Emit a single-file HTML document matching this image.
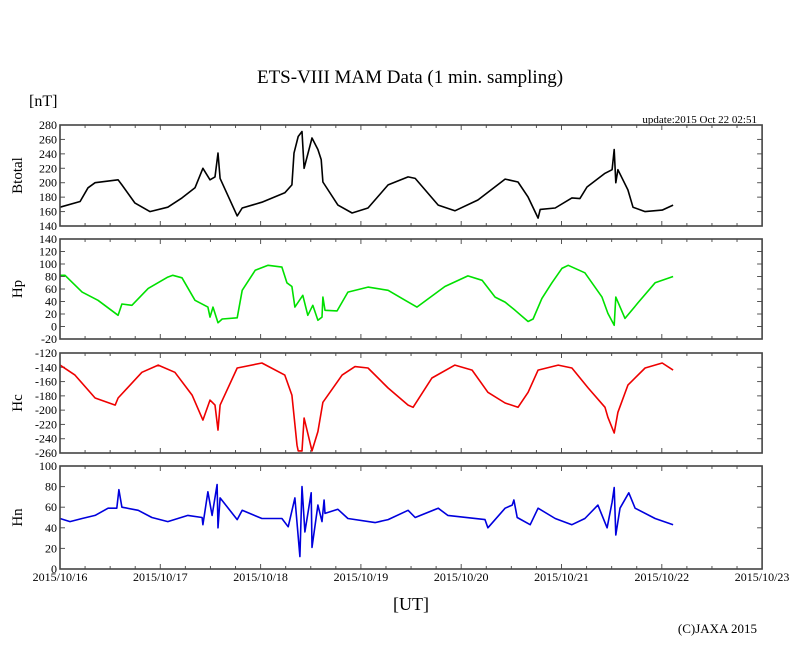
<!DOCTYPE html>
<html><head><meta charset="utf-8"><style>
html,body{margin:0;padding:0;background:#fff;}
svg{display:block;font-family:"Liberation Serif",serif;}
</style></head><body>
<svg id="chart" width="810" height="655" viewBox="0 0 810 655" xmlns="http://www.w3.org/2000/svg">
<text x="410" y="83" text-anchor="middle" font-size="19">ETS-VIII MAM Data (1 min. sampling)</text>
<text x="29" y="106" font-size="16">[nT]</text>
<text x="757" y="123" text-anchor="end" font-size="11">update:2015 Oct 22 02:51</text>
<text x="411" y="610" text-anchor="middle" font-size="18">[UT]</text>
<text x="757" y="633" text-anchor="end" font-size="13">(C)JAXA 2015</text>
<g id="plots"></g>
</svg>
<script>
// x-axis
const dayLabels = ["2015/10/16","2015/10/17","2015/10/18","2015/10/19","2015/10/20","2015/10/21","2015/10/22","2015/10/23"];
// Btotal
const btT = [0,4.8,6.7,8.4,13.9,14.8,17.9,21.5,25.8,29.2,32.3,34.2,35.9,37.1,37.8,38.3,42.4,43.6,48.3,53.8,55.5,56.0,57.0,57.9,58.4,60.3,61.7,62.5,62.9,66.5,69.9,73.7,78.5,83.3,85.0,90.5,94.5,100.0,106.5,109.6,112.0,114.4,114.9,118.5,122.5,124.4,126.1,130.4,132.1,132.6,133.0,133.5,135.9,137.1,140.0,144.1,146.7];
const btV = [166,174,193,200,204,197,172,160,166,179,193,220,204,208,241,206,154,165,173,186,197,241,264,271,220,262,246,232,201,169,158,165,197,208,206,169,161,176,205,201,180,151,163,165,179,178,194,213,218,246,200,218,190,166,160,162,169];
const btTicks = [140,160,180,200,220,240,260,280];
// Hp
const hpT = [0,1.2,5.3,9.1,13.9,14.8,17.2,21.1,25.8,27.0,29.2,32.3,35.4,35.9,36.6,37.8,38.8,42.4,43.6,46.7,49.8,53.1,54.3,55.5,56.2,58.1,59.3,60.5,61.7,62.7,62.9,63.4,66.3,68.9,73.7,78.5,82.6,85.4,92.1,97.6,101.0,104.1,106.5,108.9,112.0,113.2,115.3,117.7,120.1,121.6,125.6,129.7,131.1,132.6,133.0,135.2,138.3,142.4,146.7];
const hpV = [82,82,55,42,18,36,34,61,79,82,78,42,31,15,31,6,12,14,58,90,98,95,70,64,31,50,18,34,10,15,47,26,25,55,63,58,42,31,64,81,74,47,39,26,8,12,45,70,93,98,86,47,21,2,47,13,38,70,80];
const hpTicks = [-20,0,20,40,60,80,100,120,140];
// Hc
const hcT = [0,3.6,8.4,13.2,13.9,19.6,23.5,27.5,31.6,34.2,35.9,37.1,37.8,38.3,42.4,48.3,53.8,55.5,56.7,57.0,57.9,58.4,60.3,61.7,62.9,67.5,70.6,73.7,78.5,83.3,84.5,89.0,94.5,98.6,102.4,106.5,109.6,112.0,114.4,119.2,122.5,126.4,130.4,131.1,132.6,133.5,135.9,140.0,144.1,146.7];
const hcV = [-137,-151,-183,-193,-183,-147,-137,-147,-179,-214,-186,-193,-228,-193,-141,-134,-151,-179,-249,-257,-257,-211,-257,-230,-189,-151,-139,-141,-169,-193,-196,-155,-137,-144,-175,-190,-196,-175,-144,-137,-141,-169,-196,-210,-232,-203,-165,-141,-134,-144];
const hcTicks = [-260,-240,-220,-200,-180,-160,-140,-120];
// Hn
const hnT = [0,2.4,5.3,8.4,11.5,13.6,14.1,14.8,18.7,22.0,25.8,30.6,34.0,34.2,35.4,36.4,37.6,37.8,38.3,42.4,43.6,48.3,53.1,54.6,56.2,57.4,57.9,58.6,60.1,60.3,61.7,62.7,63.2,63.4,66.5,68.9,75.4,78.5,83.3,85.0,90.5,92.8,101.7,102.4,106.5,108.2,108.6,109.4,112.5,114.4,118.5,122.5,125.6,128.7,130.9,132.1,132.6,133.0,134.0,136.1,137.6,142.4,146.7];
const hnV = [49,46,49,52,59,59,77,60,57,50,46,52,50,43,75,52,82,40,69,48,57,49,49,41,69,12,80,36,74,21,62,46,67,54,58,49,45,48,57,50,59,52,48,40,59,62,67,50,43,59,49,43,49,62,40,65,79,33,59,74,59,49,43];
const hnTicks = [0,20,40,60,80,100];

const X0 = 60, DAYW = 100.3;
function xScale(h){ return X0 + h/24*DAYW; }
const NS = "http://www.w3.org/2000/svg";
const root = document.getElementById('plots');
function mk(tag, attrs, parent){
  const e = document.createElementNS(NS, tag);
  for (const k in attrs) e.setAttribute(k, attrs[k]);
  (parent||root).appendChild(e);
  return e;
}
const panels = [
  {name:'btotal', label:'Btotal', top:125, bot:226, min:140, max:280, T:btT, V:btV, ticks:btTicks, color:'#000000'},
  {name:'hp', label:'Hp', top:239, bot:339, min:-20, max:140, T:hpT, V:hpV, ticks:hpTicks, color:'#00e000'},
  {name:'hc', label:'Hc', top:353, bot:453, min:-260, max:-120, T:hcT, V:hcV, ticks:hcTicks, color:'#ee0000'},
  {name:'hn', label:'Hn', top:466, bot:569, min:0, max:100, T:hnT, V:hnV, ticks:hnTicks, color:'#0000dd'}
];
const XR = X0 + 7*DAYW;
panels.forEach(p => {
  const g = mk('g', {});
  
  
  const y = v => p.bot - (v - p.min)/(p.max - p.min)*(p.bot - p.top);
  // x ticks every 6h
  for (let h = 6; h < 168; h += 6) {
    const xx = xScale(h);
    const len = (h % 24 === 0) ? 5 : 3;
    mk('line', {x1:xx, x2:xx, y1:p.top, y2:p.top+len, stroke:'#555', 'stroke-width':1}, g);
    mk('line', {x1:xx, x2:xx, y1:p.bot, y2:p.bot-len, stroke:'#555', 'stroke-width':1}, g);
  }
  // y ticks + labels
  p.ticks.forEach(t => {
    const yy = y(t);
    mk('line', {x1:X0, x2:X0+5, y1:yy, y2:yy, stroke:'#555', 'stroke-width':1}, g);
    mk('line', {x1:XR, x2:XR-5, y1:yy, y2:yy, stroke:'#555', 'stroke-width':1}, g);
    const tx = mk('text', {x:X0-3, y:yy+4, 'text-anchor':'end', 'font-size':12}, g);
    
    
    tx.textContent = t;
  });
  // series
  let d = '';
  p.T.forEach((h, i) => { d += (i ? 'L' : 'M') + xScale(h).toFixed(1) + ' ' + y(p.V[i]).toFixed(1); });
  const path = mk('path', {d:d, fill:'none', stroke:p.color, 'stroke-width':1.6, 'stroke-linejoin':'round'}, g);
  
  
  // frame
  const fr = mk('rect', {x:X0, y:p.top, width:XR-X0, height:p.bot-p.top, fill:'none', stroke:'#444', 'stroke-width':1.6}, g);
  
  
  // y title
  const cy = (p.top + p.bot)/2;
  const yt = mk('text', {x:0, y:0, transform:'translate(22,'+cy+') rotate(-90)', 'text-anchor':'middle', 'font-size':15}, g);
  
  
  yt.textContent = p.label;
});
// x labels
dayLabels.forEach((lab, i) => {
  const t = mk('text', {x:xScale(i*24), y:581, 'text-anchor':'middle', 'font-size':12});
  
  
  t.textContent = lab;
});
</script>
</body></html>
